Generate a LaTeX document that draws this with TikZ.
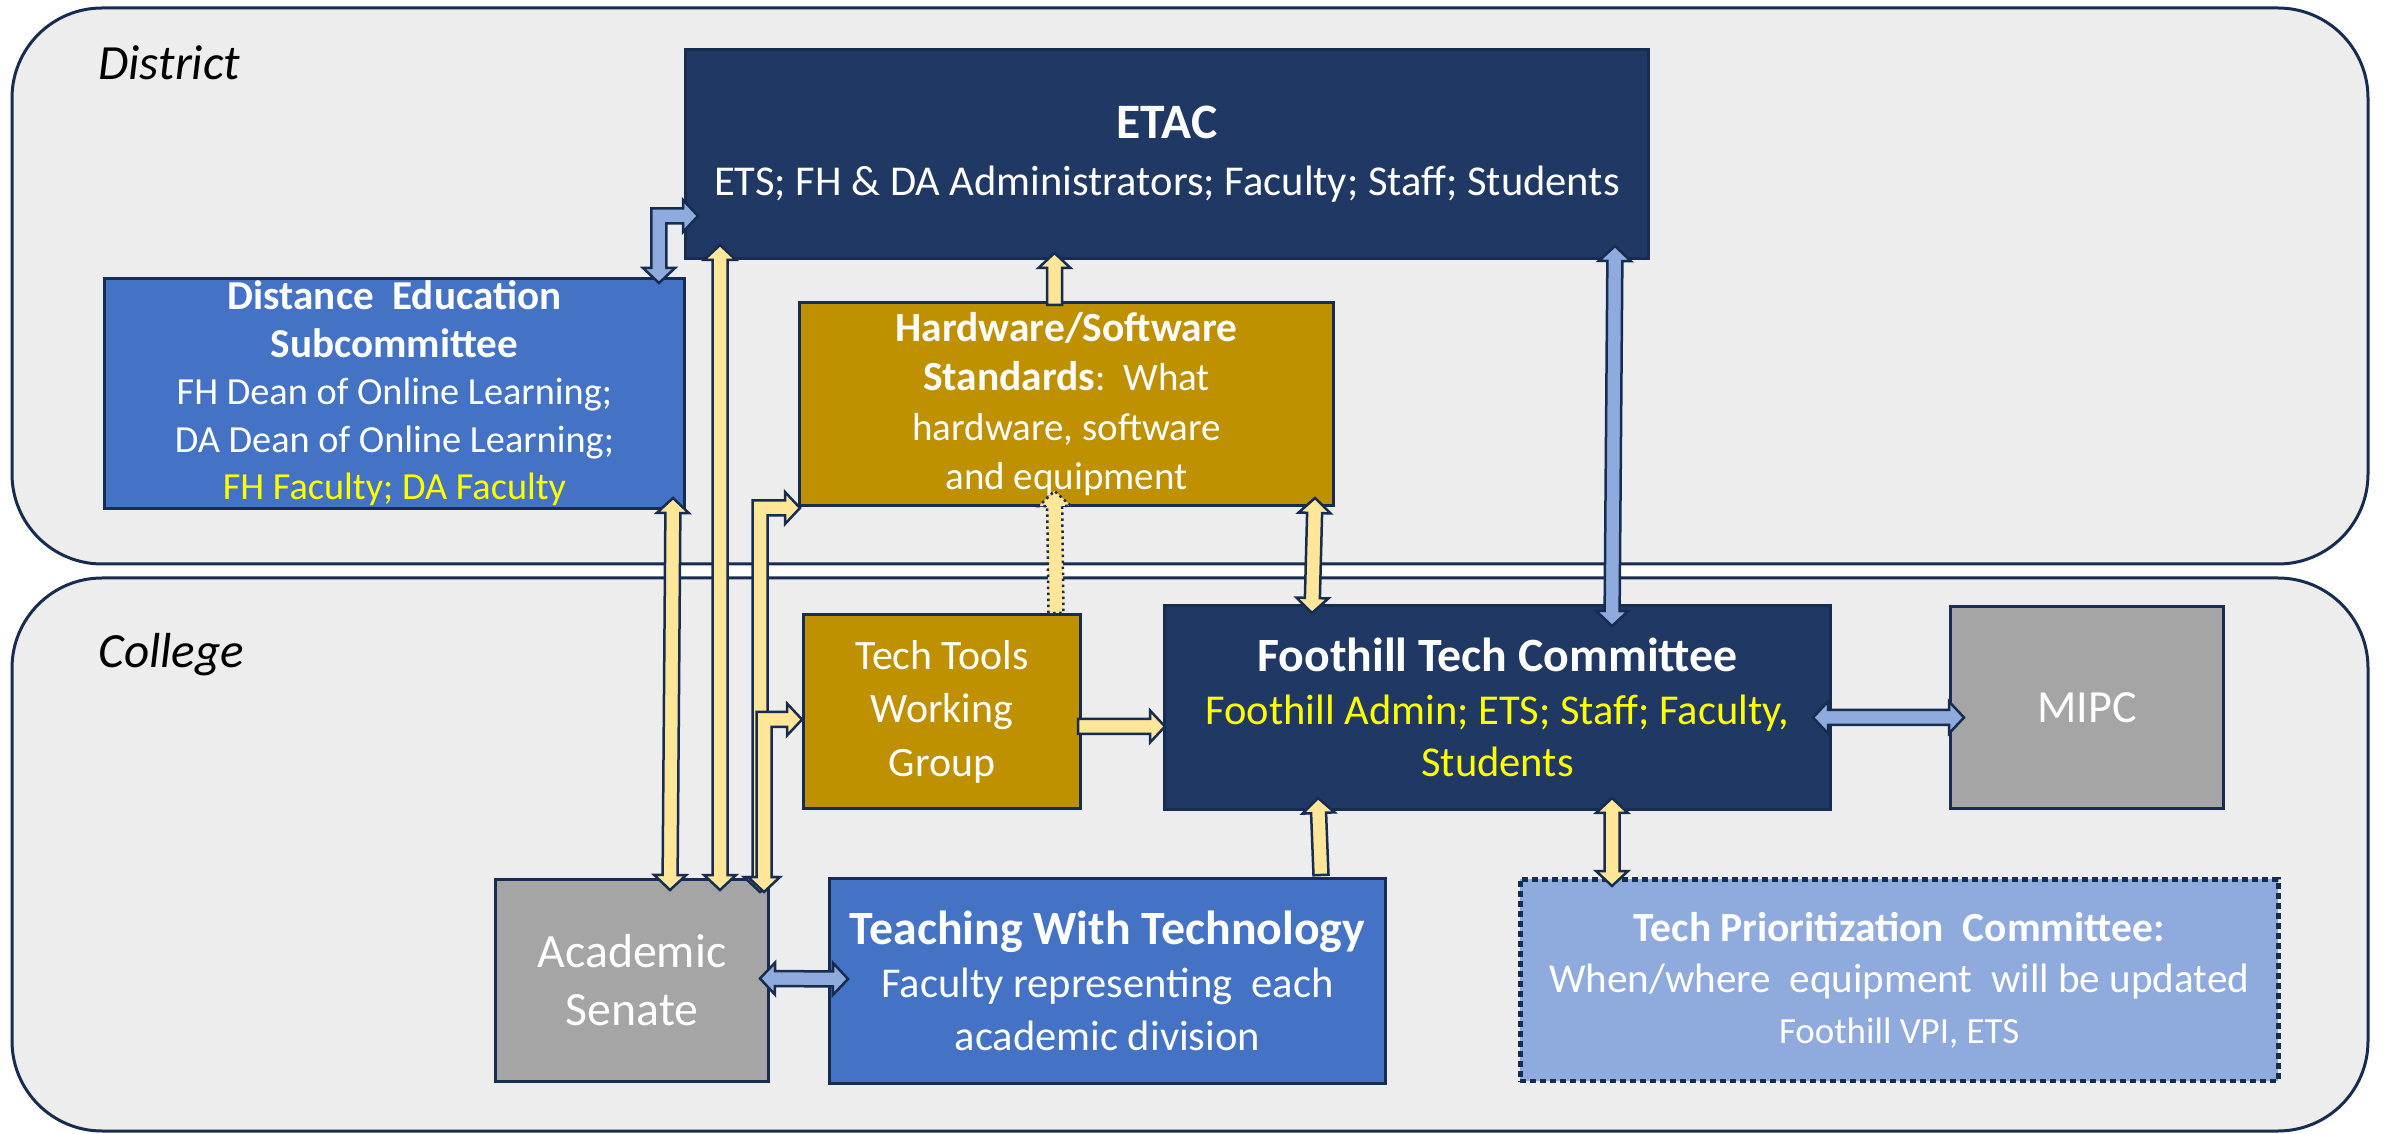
\documentclass[tikz,border=0pt]{standalone}
\usepackage{fontspec}
\setmainfont{Carlito}
\usetikzlibrary{calc}
\definecolor{edge}{HTML}{172C51}
\definecolor{navybox}{HTML}{203864}
\definecolor{bluebox}{HTML}{4472C4}
\definecolor{goldbox}{HTML}{BF9000}
\definecolor{greybox}{HTML}{A5A5A5}
\definecolor{lightblue}{HTML}{8FAADC}
\definecolor{lightyellow}{HTML}{FFE699}
\definecolor{panelgrey}{HTML}{EDEDED}
\definecolor{hiyellow}{HTML}{FFFF00}
\newcommand{\fsz}[2]{\fontsize{#1}{#2}\selectfont}
% straight block arrow, heads at both ends
\newcommand{\dblarrow}[3][]{%
  \filldraw[barrow,#1] let \p1=(#2), \p2=(#3), \n1={atan2(\y2-\y1,\x2-\x1)} in
    (\p1) -- ($(\p1)+(\n1:\hlen)+({\n1+90}:\hhw)$) -- ($(\p1)+(\n1:\hlen)+({\n1+90}:\shw)$)
    -- ($(\p2)+({\n1+180}:\hlen)+({\n1+90}:\shw)$) -- ($(\p2)+({\n1+180}:\hlen)+({\n1+90}:\hhw)$)
    -- (\p2) -- ($(\p2)+({\n1+180}:\hlen)+({\n1-90}:\hhw)$) -- ($(\p2)+({\n1+180}:\hlen)+({\n1-90}:\shw)$)
    -- ($(\p1)+(\n1:\hlen)+({\n1-90}:\shw)$) -- ($(\p1)+(\n1:\hlen)+({\n1-90}:\hhw)$) -- cycle;}
% straight block arrow, head at the second point
\newcommand{\sglarrow}[3][]{%
  \filldraw[barrow,#1] let \p1=(#2), \p2=(#3), \n1={atan2(\y2-\y1,\x2-\x1)} in
    ($(\p1)+({\n1+90}:\shw)$) -- ($(\p2)+({\n1+180}:\hlen)+({\n1+90}:\shw)$)
    -- ($(\p2)+({\n1+180}:\hlen)+({\n1+90}:\hhw)$) -- (\p2)
    -- ($(\p2)+({\n1+180}:\hlen)+({\n1-90}:\hhw)$) -- ($(\p2)+({\n1+180}:\hlen)+({\n1-90}:\shw)$)
    -- ($(\p1)+({\n1-90}:\shw)$) -- cycle;}
% bent block arrow: head down at the first point, head right at the second
\newcommand{\elbarrow}[3][]{%
  \filldraw[barrow,#1] let \p1=(#2), \p2=(#3) in
    (\p1) -- (\x1-\hhw,\y1+\hlen) -- (\x1-\shw,\y1+\hlen) -- (\x1-\shw,\y2+\shw)
    -- (\x2-\hlen,\y2+\shw) -- (\x2-\hlen,\y2+\hhw) -- (\p2) -- (\x2-\hlen,\y2-\hhw)
    -- (\x2-\hlen,\y2-\shw) -- (\x1+\shw,\y2-\shw) -- (\x1+\shw,\y1+\hlen)
    -- (\x1+\hhw,\y1+\hlen) -- cycle;}
\begin{document}
\begin{tikzpicture}[x=0.1mm, y=-0.1mm, line join=miter,
  panel/.style={draw=edge, fill=panelgrey, line width=0.3mm, rounded corners=9mm},
  box/.style={draw=edge, line width=0.3mm, anchor=north west, inner sep=0pt, align=center, text=white},
  barrow/.style={draw=edge, line width=0.25mm, fill=lightyellow},
  label/.style={anchor=base west, font=\fsz{14}{16}\itshape}]
  \def\shw{0.75mm} \def\hhw{1.6mm} \def\hlen{1.5mm}
  \useasboundingbox (0,0) rectangle (2384,1134);
  \draw[panel] (12,8) rectangle (2368,564);
  \draw[panel] (12,578) rectangle (2368,1131);
  \node[label] (district) at (86,80) {District};
  \node[label] (college) at (86,668) {College};
  % district boxes
  \node[box, fill=navybox, minimum width=96.3mm, minimum height=20.9mm, font=\fsz{12.1}{16.2}] (etac) at (684,48)
    {{\fsz{14.1}{16.2}\bfseries ETAC}\\ETS; FH \& DA Administrators; Faculty; Staff; Students};
  \node[box, fill=bluebox, minimum width=58mm, minimum height=23mm, font=\fsz{10.9}{13.5}] (desub) at (103,277)
    {\textbf{\fsz{11.7}{13.5}Distance\ \ Education}\\\textbf{\fsz{11.7}{13.5}Subcommittee}\\FH Dean of Online Learning;\\DA Dean of Online Learning;\\\textcolor{hiyellow}{FH Faculty; DA Faculty}};
  \node[box, fill=goldbox, minimum width=53.4mm, minimum height=20.3mm, font=\fsz{11.1}{14}] (hwstd) at (798,301)
    {\textbf{\fsz{11.8}{14}Hardware/Software}\\\textbf{\fsz{11.8}{14}Standards}:\ \ What\\hardware, software\\and equipment};
  % college boxes
  \node[box, fill=goldbox, minimum width=27.7mm, minimum height=19.4mm, font=\fsz{11.9}{15.2}] (ttwg) at (802,613)
    {Tech Tools\\Working\\Group};
  \node[box, fill=navybox, minimum width=66.6mm, minimum height=20.4mm, font=\fsz{12.1}{15}] (ftc) at (1163,604)
    {{\fsz{13.6}{15}\bfseries Foothill Tech Committee}\\\textcolor{hiyellow}{Foothill Admin; ETS; Staff; Faculty,}\\\textcolor{hiyellow}{Students}};
  \node[box, fill=greybox, minimum width=27.3mm, minimum height=20.2mm, font=\fsz{13.1}{16}] (mipc) at (1949,605) {MIPC};
  \node[box, fill=greybox, minimum width=27.3mm, minimum height=20.2mm, font=\fsz{13.6}{16.5}] (senate) at (494,878)
    {Academic\\Senate};
  \node[box, fill=bluebox, minimum width=55.6mm, minimum height=20.5mm, font=\fsz{12.1}{15}] (twt) at (828,877)
    {{\fsz{13.6}{15}\bfseries Teaching With Technology}\\Faculty representing\ \ each\\academic division};
  \node[box, fill=lightblue, minimum width=75.8mm, minimum height=20.2mm, line width=0.45mm,
    dash pattern=on 0.6mm off 0.4mm, font=\fsz{11.7}{14.4}] (tpc) at (1518,877)
    {{\bfseries\fsz{11.8}{14.4}Tech Prioritization\ \ Committee:}\\When/where\ \ equipment\ \ will be updated\\{\fsz{10.5}{13.6}Foothill VPI, ETS}};
  % arrows
  \elbarrow[fill=lightblue]{$(desub.north east)+(-27,6)$}{$(etac.south west)+(14,-44)$}
  \dblarrow{$(desub.south east)+(-13,-12)$}{$(senate.north west)+(176,12)$}
  \dblarrow{$(etac.south west)+(36,-15)$}{$(senate.north west)+(226,12)$}
  \elbarrow{$(senate.north east)+(-10,14)$}{$(hwstd.south west)+(2,1)$}
  \elbarrow{$(senate.north east)+(-6,14)$}{$(ttwg.west)+(0,8)$}
  \sglarrow{$(hwstd.north)+(-12,4)$}{$(etac.south -| hwstd.north)+(-12,-7)$}
  \sglarrow[densely dotted]{$(ttwg.north east)+(-26,0)$}{$(hwstd.south)+(-12,-16)$}
  \sglarrow{$(ttwg.east)+(-4,15)$}{$(ftc.west)+(2,19)$}
  \dblarrow{$(hwstd.south east)+(-20,-9)$}{$(ftc.north west)+(149,9)$}
  \dblarrow[fill=lightblue]{$(etac.south east)+(-35,-14)$}{$(ftc.north west)+(449,22)$}
  \dblarrow[fill=lightblue]{$(ftc.east)+(-19,10)$}{$(mipc.west)+(15,10)$}
  \sglarrow{$(twt.north east)+(-66,-2)$}{$(ftc.south west)+(155,-13)$}
  \dblarrow{$(ftc.south west)+(449,-13)$}{$(tpc.north west)+(94,9)$}
  \dblarrow[fill=lightblue]{$(senate.east)+(-10,-2)$}{$(twt.west)+(20,-2)$}
\end{tikzpicture}
\end{document}
